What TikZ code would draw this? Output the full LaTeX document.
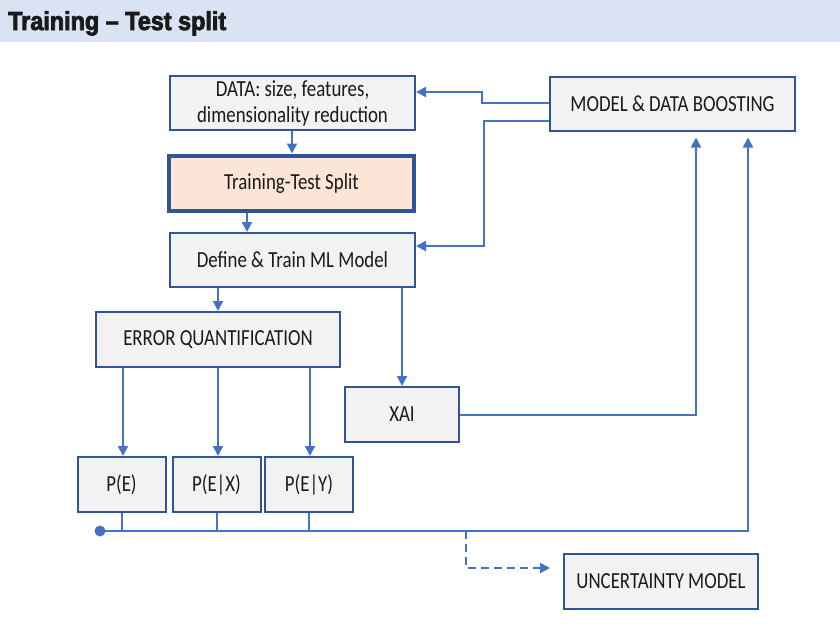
\documentclass[tikz,border=0pt]{standalone}
\usepackage{fontspec}
\usetikzlibrary{arrows.meta}
\newfontfamily\bodyfont[FakeStretch=0.82]{Carlito}
\newfontfamily\titlefont[FakeStretch=0.9,FakeBold=3]{Liberation Sans Bold}
\definecolor{band}{HTML}{DAE3F3}
\definecolor{boxfill}{HTML}{F2F2F2}
\definecolor{boxline}{HTML}{2F5597}
\definecolor{conncol}{HTML}{4472C4}
\definecolor{splitfill}{HTML}{FBE5D6}
\definecolor{txt}{HTML}{1A1A1A}
\begin{document}
\begin{tikzpicture}[x=1pt,y=-1pt,
  box/.style={draw=boxline,line width=2pt,fill=boxfill,inner sep=0pt,
    minimum height=55pt,align=center,text=txt,font=\bodyfont\fontsize{23}{26}\selectfont},
  conn/.style={draw=conncol,line width=2pt,-{Triangle[length=10pt,width=10pt]}},
  plain/.style={draw=conncol,line width=2pt}]
\useasboundingbox (0,0) rectangle (840,630);
\fill[band] (0,0) rectangle (840,42);
\node[anchor=base west,inner sep=0pt,text=txt,font=\titlefont\fontsize{26}{30}\selectfont] (title) at (8,30) {Training – Test split};
% boxes
\node[box,minimum width=245pt,minimum height=54pt] (data) at (292.5,103) {DATA: size, features,\\dimensionality reduction};
\node[box,minimum width=245pt,line width=4pt,fill=splitfill] (split) at (291.5,183) {Training-Test Split};
\node[box,minimum width=245pt,minimum height=54pt] (define) at (292.5,260) {Define \& Train ML Model};
\node[box,minimum width=244pt] (error) at (218,339.5) {ERROR QUANTIFICATION};
\node[box,minimum width=114pt] (xai) at (402,414.5) {XAI};
\node[box,minimum width=245pt,minimum height=54pt] (boost) at (672.5,103.5) {MODEL \& DATA BOOSTING};
\node[box,minimum width=88pt] (pe) at (121.5,484.5) {P(E)};
\node[box,minimum width=88pt] (pex) at (216.5,484.5) {P(E|X)};
\node[box,minimum width=88pt] (pey) at (309,484.5) {P(E|Y)};
\node[box,minimum width=194pt] (unc) at (661,581) {UNCERTAINTY MODEL};
% vertical flow
\draw[conn] (292,0 |- data.south) -- (292,0 |- split.north);
\draw[conn] (247,0 |- split.south) -- (247,0 |- define.north);
\draw[conn] (218,0 |- define.south) -- (218,0 |- error.north);
\draw[conn] (402,0 |- define.south) -- (xai.north);
\draw[conn] (123,0 |- error.south) -- (123,0 |- pe.north);
\draw[conn] (218,0 |- error.south) -- (218,0 |- pex.north);
\draw[conn] (310,0 |- error.south) -- (310,0 |- pey.north);
% feedback from boosting
\draw[conn] (boost.west |- 0,103) -- (482,103) -- (482,92) -- (data.east |- 0,92);
\draw[conn] (boost.west |- 0,121) -- (484,121) -- (484,246) -- (define.east |- 0,246);
% XAI to boosting
\draw[conn,shorten >=6pt] (xai.east) -- (696,0 |- xai.east) -- (696,0 |- boost.south);
% bus
\coordinate (busL) at (100,531);
\coordinate (busR) at (748,531);
\fill[conncol] (busL) circle (5.5pt);
\draw[plain] (pe.south) -- (pe.south |- busL);
\draw[plain] (pex.south) -- (pex.south |- busL);
\draw[plain] (pey.south) -- (pey.south |- busL);
\draw[conn,shorten >=6pt] (busL) -- (busR) -- (busR |- boost.south);
% dashed to uncertainty
\coordinate (dashA) at (466,531);
\draw[conn,dash pattern=on 8pt off 5pt,shorten >=13pt] (dashA) -- (466,568) -- (unc.west |- 0,568);
\end{tikzpicture}
\end{document}
